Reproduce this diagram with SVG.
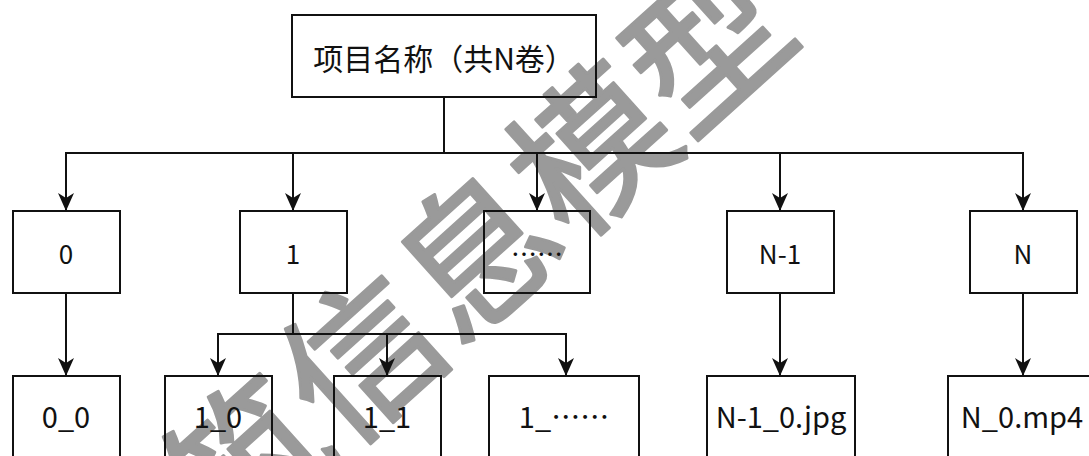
<svg xmlns="http://www.w3.org/2000/svg" width="1089" height="456" viewBox="0 0 1089 456">
<style>
.box{fill:none;stroke:#111;stroke-width:2}
.lbl{font-family:"Noto Sans CJK SC","Noto Sans",sans-serif;fill:#111;text-anchor:middle}
.l1{font-size:26px}
.l2{font-size:29px}
.edge{fill:none;stroke:#111;stroke-width:2;marker-end:url(#arr)}
.wm{font-family:"Noto Sans CJK SC",sans-serif;font-weight:400;font-size:155px;fill:#9a9a9a;stroke:#9a9a9a;stroke-width:3;stroke-linejoin:round;text-anchor:middle;dominant-baseline:central}
</style>
<defs>
<marker id="arr" markerUnits="userSpaceOnUse" markerWidth="20" markerHeight="18" refX="18" refY="8" orient="auto">
<path d="M18 8 L0 0 L5 8 L0 16 Z" fill="#111"/>
</marker>
</defs>
<rect width="1089" height="456" fill="#fff"/>
<g id="watermark"><text class="wm" transform="translate(470 246) rotate(-42)">筑信息模型</text></g>
<g id="root"><rect class="box" x="292" y="15" width="304" height="82"/><text class="lbl" x="444" y="70" font-size="30">项目名称（共N卷）</text></g>
<g id="n0"><rect class="box" x="13" y="211" width="107" height="82"/><text class="lbl l1" x="66" y="264">0</text></g>
<g id="n1"><rect class="box" x="240" y="211" width="107" height="82"/><text class="lbl l1" x="293" y="264">1</text></g>
<g id="ndots"><rect class="box" x="484" y="211" width="106" height="82"/><text class="lbl l1" x="537" y="264">……</text></g>
<g id="nN1"><rect class="box" x="727" y="211" width="107" height="82"/><text class="lbl l1" x="780" y="264">N-1</text></g>
<g id="nN"><rect class="box" x="970" y="211" width="107" height="82"/><text class="lbl l1" x="1023" y="264">N</text></g>
<g id="n0_0"><rect class="box" x="13" y="376" width="107" height="100"/><text class="lbl l2" x="66" y="428">0_0</text></g>
<g id="n1_0"><rect class="box" x="165" y="376" width="107" height="100"/><text class="lbl l2" x="218" y="428">1_0</text></g>
<g id="n1_1"><rect class="box" x="334" y="376" width="107" height="100"/><text class="lbl l2" x="387" y="428">1_1</text></g>
<g id="n1_dots"><rect class="box" x="489" y="376" width="150" height="100"/><text class="lbl l2" x="564" y="428">1_……</text></g>
<g id="nN1_0"><rect class="box" x="707" y="376" width="148" height="100"/><text class="lbl l2" x="781" y="428">N-1_0.jpg</text></g>
<g id="nN_0"><rect class="box" x="948" y="376" width="150" height="100"/><text class="lbl l2" x="1022" y="428">N_0.mp4</text></g>
<g id="connectors">
<path class="edge" d="M444 97 V153 H66 V211"/>
<path class="edge" d="M444 97 V153 H293 V211"/>
<path class="edge" d="M444 97 V153 H537 V211"/>
<path class="edge" d="M444 97 V153 H780 V211"/>
<path class="edge" d="M444 97 V153 H1023 V211"/>
<path class="edge" d="M66 293 V376"/>
<path class="edge" d="M293 293 V334 H218 V376"/>
<path class="edge" d="M293 293 V334 H387 V376"/>
<path class="edge" d="M293 293 V334 H566 V376"/>
<path class="edge" d="M780 293 V376"/>
<path class="edge" d="M1023 293 V376"/>
</g>
</svg>
